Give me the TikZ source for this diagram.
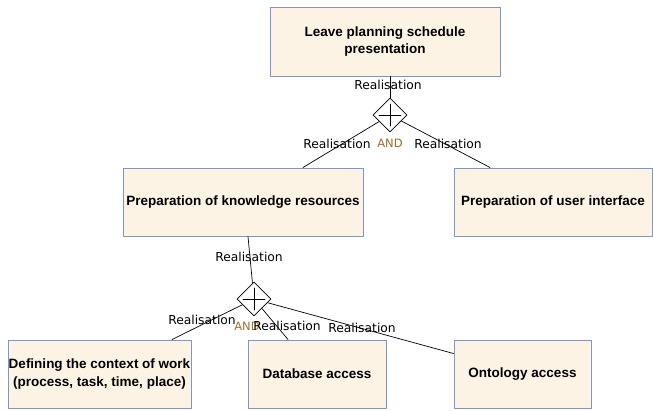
\documentclass[tikz,border=0pt]{standalone}
\usepackage{fontspec}
\setmainfont{DejaVu Sans}
\newfontfamily\boxfont{Liberation Sans}
\usepackage{xcolor}
\usetikzlibrary{shapes.geometric}
\definecolor{boxfill}{RGB}{253,243,228}
\definecolor{boxline}{RGB}{122,150,204}
\definecolor{andbrown}{RGB}{160,108,40}
\tikzset{
    task/.style = {draw=boxline, fill=boxfill, line width=1pt, inner sep=0pt, align=center,
        font=\boxfont\bfseries\fontsize{13.5}{17.5}\selectfont},
    gate/.style = {draw, diamond, aspect=1, minimum size=34pt, inner sep=0pt, line width=0.8pt,
        path picture={
        \draw[line width=0.8pt] (path picture bounding box.center) ++(-11pt,0) -- ++(22pt,0);
        \draw[line width=0.8pt] (path picture bounding box.center) ++(0,-11pt) -- ++(0,22pt);
        }},
    rel/.style = {font=\fontsize{12.3}{14}\selectfont, inner sep=0pt},
    andlbl/.style = {text=andbrown, font=\fontsize{11.5}{13}\selectfont, inner sep=0pt}
}
\begin{document}
\begin{tikzpicture}[line cap=round,line join=round,x=1pt,y=-1pt]
    \useasboundingbox (0,0) rectangle (653,410);
    
    \node[task, minimum width=230pt, minimum height=69pt] (lp) at (385,41.5) {Leave planning schedule\\presentation};
    \node[task, minimum width=240pt, minimum height=68pt] (kr) at (243,202) {Preparation of knowledge resources};
    \node[task, minimum width=198pt, minimum height=68pt] (ui) at (553,202) {Preparation of user interface};
    \node[task, minimum width=183pt, minimum height=68pt] (cw) at (99.5,374) {Defining the context of work\\(process, task, time, place)};
    \node[task, minimum width=138pt, minimum height=68pt] (db) at (317,374) {Database access};
    \node[task, minimum width=137pt, minimum height=68pt] (on) at (522.5,374) {Ontology access};
    
    \node[gate] (g1) at (390,115) {};
    \node[gate] (g2) at (254,299) {};
    
    \draw [line width=0.7pt] ([xshift=5pt]lp.south) -- (g1);
    \draw [line width=0.7pt] ([xshift=60pt]kr.north) -- (g1);
    \draw [line width=0.7pt] ([xshift=-63pt]ui.north) -- (g1);
    \draw [line width=0.7pt] ([xshift=5pt]kr.south) -- (g2);
    \draw [line width=0.7pt] ([xshift=72.5pt]cw.north) -- (g2);
    \draw [line width=0.7pt] ([xshift=-29pt]db.north) -- (g2);
    \draw [line width=0.7pt] ([yshift=-14pt]on.north west) -- (g2);
    
    \node[rel] (r1) at (388,85) {Realisation};
    \node[rel] (r2) at (337,144) {Realisation};
    \node[rel] (r3) at (448,144) {Realisation};
    \node[andlbl] (a1) at (390,143) {AND};
    \node[rel] (r4) at (249,257) {Realisation};
    \node[rel] (r5) at (202,320) {Realisation};
    \node[andlbl] (a2) at (247,326) {AND};
    \node[rel] (r6) at (287,326) {Realisation};
    \node[rel] (r7) at (362,328) {Realisation};
\end{tikzpicture}
\end{document}
